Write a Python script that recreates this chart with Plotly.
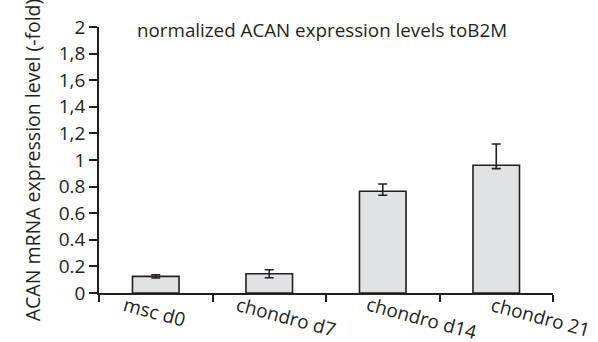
import plotly.graph_objects as go

categories = ["msc d0", "chondro d7", "chondro d14", "chondro 21"]
values = [0.125, 0.145, 0.765, 0.96]
err_plus = [0.012, 0.03, 0.055, 0.16]
err_minus = [0.012, 0.03, 0.03, 0.025]
tick_vals = [0, 0.2, 0.4, 0.6, 0.8, 1, 1.2, 1.4, 1.6, 1.8, 2]
tick_text = ["0", "0.2", "0.4", "0.6", "0.8", "1", "1,2", "1,4", "1,6", "1,8", "2"]

# label nudges (pixels) to mimic the hand-placed category labels
label_xshift = [-1, 17, 39, 44]

ink = "#231f20"
fnt = "Open Sans"

fig = go.Figure()
fig.add_trace(go.Bar(
    x=categories, y=values, width=0.41,
    marker=dict(color="#e1e2e4", line=dict(color=ink, width=1.6)),
    error_y=dict(type="data", symmetric=False, array=err_plus, arrayminus=err_minus,
                 color=ink, thickness=1.6, width=4.5),
))

for c, dx in zip(categories, label_xshift):
    fig.add_annotation(x=c, y=0, xref="x", yref="paper", xanchor="center", yanchor="top",
                       xshift=dx, yshift=3, borderpad=0,
                       text=c, showarrow=False, textangle=15,
                       font=dict(family=fnt, size=19, color=ink))

fig.add_annotation(x=0.491, y=1.0, xref="paper", yref="paper", xanchor="center",
                   yanchor="middle", yshift=-3,
                   text="normalized ACAN expression levels toB2M", showarrow=False,
                   font=dict(family=fnt, size=18.8, color=ink))

fig.update_layout(
    width=598, height=342,
    margin=dict(l=99, r=45, t=27, b=49),
    paper_bgcolor="white", plot_bgcolor="white",
    showlegend=False,
    font=dict(family=fnt, size=19, color=ink),
)
fig.update_xaxes(
    type="category", range=[-0.5, 3.5], showticklabels=False, automargin=False,
    tickson="boundaries", ticks="outside", ticklen=7, tickwidth=1.6, tickcolor=ink,
    showline=True, linecolor=ink, linewidth=1.6, showgrid=False, zeroline=False,
)
fig.update_yaxes(
    range=[0, 2], tickvals=tick_vals, ticktext=tick_text, automargin=False,
    ticks="outside", ticklen=8, tickwidth=1.6, tickcolor=ink,
    showline=True, linecolor=ink, linewidth=1.6, showgrid=False, zeroline=False,
    tickfont=dict(family=fnt, size=19, color=ink),
    title=dict(text="ACAN mRNA expression level (-fold)", standoff=13,
               font=dict(family=fnt, size=19.5, color=ink)),
)

fig.write_html("out.html", config={"displayModeBar": False})
with open("out.html", encoding="utf-8") as f:
    html = f.read()
html = html.replace("<body>", '<body style="margin:0;padding:0;overflow:hidden">', 1)
with open("out.html", "w", encoding="utf-8") as f:
    f.write(html)
